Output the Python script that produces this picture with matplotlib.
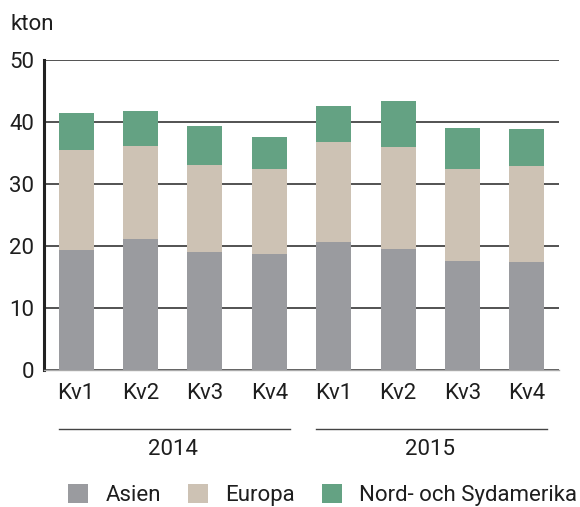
import numpy as np
import matplotlib
matplotlib.use("Agg")
import matplotlib.pyplot as plt
from matplotlib.patches import Patch
from matplotlib.lines import Line2D

# data (kton)
quarters = ["Kv1", "Kv2", "Kv3", "Kv4", "Kv1", "Kv2", "Kv3", "Kv4"]
years = ["2014", "2015"]
asien = [19.4, 21.1, 19.0, 18.7, 20.7, 19.5, 17.6, 17.4]
europa = [16.1, 15.1, 14.1, 13.7, 16.1, 16.5, 14.8, 15.5]
amerika = [5.9, 5.6, 6.3, 5.2, 5.8, 7.4, 6.6, 6.0]

colors = ["#9a9b9f", "#cdc2b4", "#64a283"]
series_names = ["Asien", "Europa", "Nord- och Sydamerika"]

plt.rcParams["font.family"] = ["Roboto", "DejaVu Sans"]
text_color = "#1e1e1e"

fig = plt.figure(figsize=(5.8, 5.07), dpi=100)
ax = fig.add_axes([0.0759, 0.2702, 0.8879, 0.6115])

x = np.arange(len(quarters))
w = 0.545
bottom = np.zeros(len(quarters))
for vals, c in zip([asien, europa, amerika], colors):
    ax.bar(x, vals, w, bottom=bottom, color=c, zorder=3)
    bottom = bottom + np.array(vals)

ax.set_xlim(-0.5, len(quarters) - 0.5)
ax.set_ylim(0, 50)
ax.set_yticks([0, 10, 20, 30, 40, 50])
ax.yaxis.grid(True, color="#444444", linewidth=1.3, zorder=0)
ax.set_axisbelow(True)

for s in ["top", "right"]:
    ax.spines[s].set_visible(False)
ax.spines["left"].set_linewidth(2.2)
ax.spines["left"].set_color("#222222")
ax.spines["bottom"].set_color("#aaaaaa")
ax.spines["bottom"].set_linewidth(1.0)

ax.tick_params(axis="both", length=0, labelsize=16, colors=text_color)
ax.tick_params(axis="y", pad=7)
ax.tick_params(axis="x", pad=9)
ax.set_xticks(x)
ax.set_xticklabels(quarters)

# kton label
fig.text(10 / 580, 1 - 25 / 507, "kton", fontsize=16, color=text_color,
         ha="left", va="center")

# year group lines and labels
trans = ax.get_xaxis_transform()
for i, yr in enumerate(years):
    x0 = i * 4 - 0.27
    x1 = i * 4 + 3 + 0.32
    ax.add_line(Line2D([x0, x1], [-0.19, -0.19], transform=trans,
                       color="#444444", linewidth=1.0, clip_on=False))
    ax.text(i * 4 + 1.5, -0.258, yr, transform=trans, ha="center", va="center",
            fontsize=16, color=text_color)

handles = [Patch(facecolor=c, edgecolor="none") for c in colors]
fig.legend(handles, series_names, loc="center", bbox_to_anchor=(0.556, 1 - 495 / 507),
           ncol=3, frameon=False, fontsize=16, handlelength=0.9, handleheight=0.9,
           handletextpad=0.8, columnspacing=1.2, labelcolor=text_color)

fig.savefig("out.png", dpi=100)
